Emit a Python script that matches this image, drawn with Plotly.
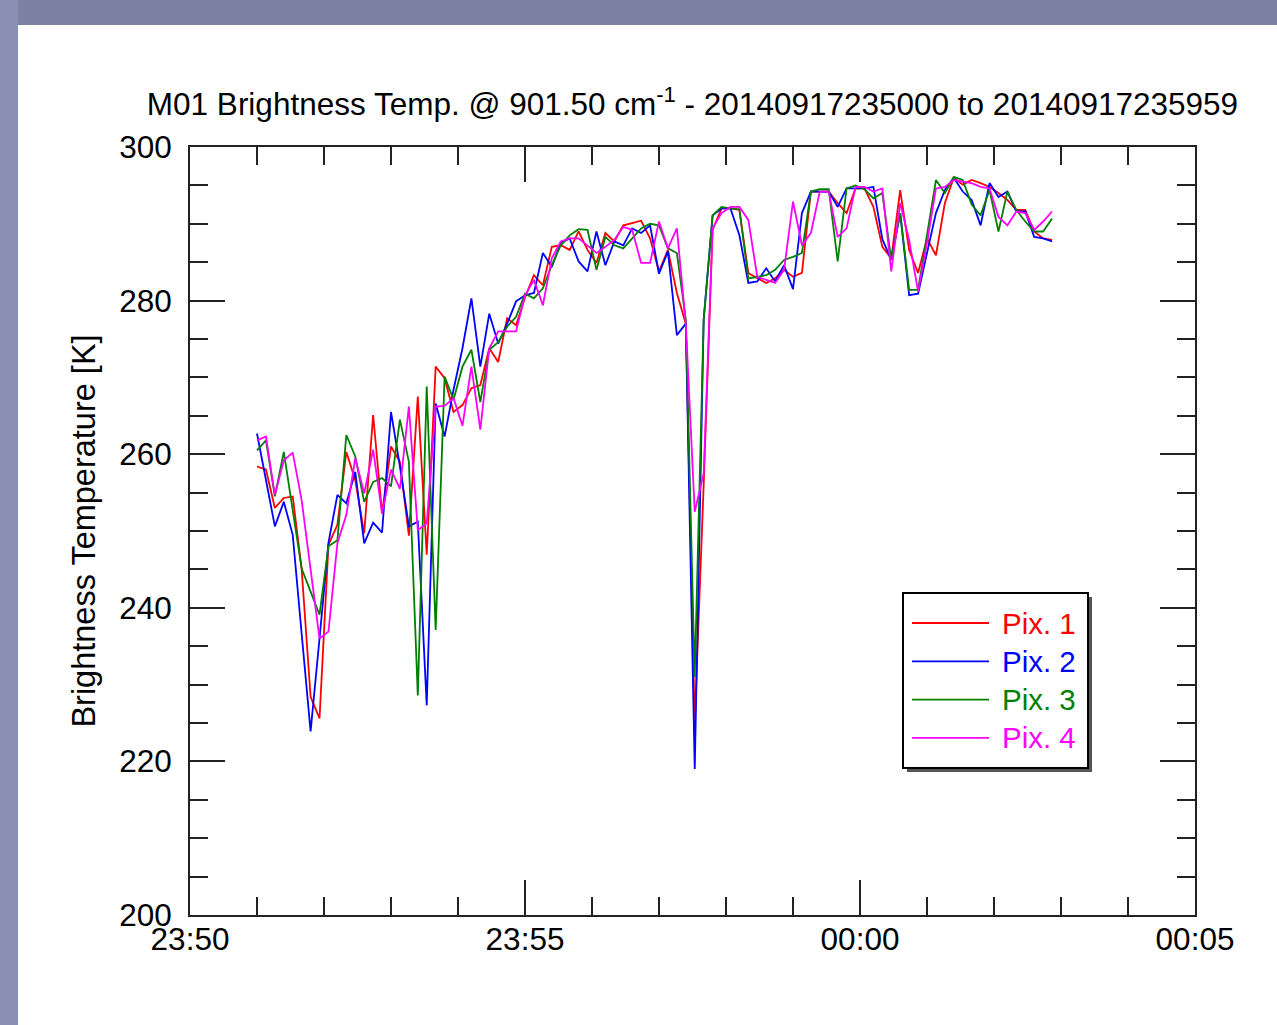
import plotly.graph_objects as go
import pandas as pd

# ---------------- data ----------------
start_time = "2014-09-17 23:51:00"
n_points = 90
sample_interval = "8s"
times = pd.date_range(start_time, periods=n_points, freq=sample_interval)

pix1 = [258.4, 258.0, 253.0, 254.3, 254.5, 245.0, 228.4, 225.6, 248.2, 250.8,
        260.3, 256.6, 249.7, 265.1, 252.3, 261.0, 259.0, 249.4, 267.5, 246.9,
        271.4, 269.9, 265.5, 266.4, 268.6, 269.0, 273.8, 272.0, 277.7, 276.8,
        280.4, 283.3, 282.0, 287.0, 287.2, 286.6, 289.0, 286.6, 284.9, 288.8,
        287.7, 289.8, 290.1, 290.4, 288.1, 283.8, 286.6, 281.0, 277.0, 225.0,
        256.0, 289.2, 292.0, 292.0, 291.8, 283.6, 282.9, 282.3, 282.9, 284.0,
        283.1, 283.6, 294.2, 294.2, 294.2, 292.7, 291.4, 294.6, 294.6, 292.2,
        287.0, 285.5, 294.4, 286.6, 283.6, 288.1, 285.9, 292.7, 296.0, 295.1,
        295.7, 295.3, 294.8, 294.0, 293.1, 291.8, 291.8, 289.0, 288.1, 287.9]

pix2 = [262.7, 256.6, 250.6, 253.8, 249.5, 236.6, 223.9, 236.0, 248.5, 254.7,
        253.6, 257.7, 248.4, 251.1, 249.8, 265.5, 258.4, 250.6, 251.2, 227.3,
        266.6, 262.3, 268.4, 273.8, 280.3, 271.4, 278.3, 274.4, 277.0, 279.9,
        280.7, 281.0, 286.2, 284.4, 287.5, 288.1, 285.1, 283.8, 289.0, 284.6,
        287.7, 287.2, 289.4, 288.8, 289.8, 283.5, 286.4, 275.5, 277.0, 219.0,
        277.5, 291.1, 292.0, 292.0, 288.5, 282.3, 282.5, 284.2, 282.5, 284.6,
        281.5, 291.4, 294.2, 294.2, 294.2, 292.2, 294.6, 294.6, 294.6, 294.8,
        288.0, 285.3, 291.4, 280.7, 280.9, 286.2, 291.4, 294.4, 296.0, 294.2,
        293.1, 289.8, 295.3, 293.5, 294.2, 291.6, 291.6, 288.3, 288.1, 287.7]

pix3 = [260.5, 261.8, 254.5, 260.3, 252.7, 245.1, 242.1, 239.1, 248.0, 248.8,
        262.5, 259.7, 253.8, 256.4, 256.9, 255.8, 264.5, 259.0, 228.6, 268.8,
        237.1, 270.1, 267.1, 271.4, 273.6, 266.8, 273.6, 274.6, 276.6, 277.9,
        280.9, 280.3, 281.6, 284.6, 287.2, 288.5, 289.3, 289.2, 284.0, 288.3,
        287.2, 286.8, 288.1, 289.4, 290.0, 289.8, 286.8, 286.2, 277.5, 231.0,
        277.5, 291.1, 292.2, 292.0, 291.9, 282.9, 283.1, 283.3, 284.0, 285.3,
        285.7, 286.2, 294.2, 294.5, 294.5, 285.1, 294.6, 295.0, 294.5, 293.3,
        294.0, 285.3, 291.4, 281.4, 281.4, 288.8, 295.7, 294.0, 296.1, 295.7,
        292.5, 291.1, 294.4, 289.0, 294.2, 291.8, 290.3, 289.0, 289.0, 290.7]

pix4 = [261.8, 262.3, 254.7, 259.2, 260.2, 254.0, 245.0, 236.0, 236.9, 248.4,
        252.1, 259.5, 254.9, 260.6, 252.3, 258.0, 255.5, 266.2, 250.1, 251.0,
        266.2, 266.3, 267.3, 263.7, 271.4, 263.2, 273.8, 276.0, 276.0, 276.0,
        280.7, 282.7, 279.4, 285.5, 287.7, 288.1, 288.1, 287.2, 286.2, 287.0,
        287.9, 289.6, 289.2, 284.9, 284.9, 290.3, 286.8, 289.4, 277.0, 252.5,
        257.5, 289.4, 291.4, 292.2, 292.2, 290.5, 283.1, 282.7, 282.3, 284.0,
        292.9, 287.2, 288.8, 294.2, 294.2, 288.3, 289.4, 294.8, 294.8, 294.2,
        294.6, 283.8, 292.7, 287.9, 281.2, 287.5, 294.6, 294.8, 295.7, 295.5,
        295.3, 294.8, 294.6, 290.9, 289.8, 291.6, 291.4, 289.2, 290.3, 291.6]

series_names = ["Pix. 1", "Pix. 2", "Pix. 3", "Pix. 4"]
series_values = [pix1, pix2, pix3, pix4]
series_colors = ["#ff0000", "#0000ff", "#008000", "#ff00ff"]

x_range = ["2014-09-17 23:50:00", "2014-09-18 00:05:00"]
y_range = [200, 300]

title_text = ("M01 Brightness Temp. @ 901.50 cm<sup>-1</sup> - "
              "20140917235000 to 20140917235959")
y_title = "Brightness Temperature [K]"

# ---------------- layout geometry ----------------
W, H = 1277, 1025
L, R, T, B = 190, 82, 147, 110
PW, PH = W - L - R, H - T - B
FONT = "Liberation Sans, Arial, Helvetica, sans-serif"
AX = "#222222"


def xp(px):
    return (px - L) / PW


def yp(py):
    return (H - B - py) / PH


fig = go.Figure()
for name, vals, col in zip(series_names, series_values, series_colors):
    fig.add_trace(go.Scatter(x=times, y=vals, mode="lines", name=name,
                             line=dict(color=col, width=1.8),
                             showlegend=False))

shapes = [
    # left lighter strip of the backdrop
    dict(type="rect", xref="paper", yref="paper", layer="below",
         x0=xp(0), x1=xp(18), y0=yp(H), y1=yp(0),
         fillcolor="#8a90b4", line=dict(width=0)),
    # white panel
    dict(type="rect", xref="paper", yref="paper", layer="below",
         x0=xp(18), x1=xp(W), y0=yp(H), y1=yp(25),
         fillcolor="white", line=dict(width=0)),
]

# custom legend box with shadow
lx0, lx1, ly0, ly1 = 903, 1088, 593, 768
shapes.append(dict(type="rect", xref="paper", yref="paper",
                   x0=xp(lx0 + 4), x1=xp(lx1 + 4), y0=yp(ly1 + 4), y1=yp(ly0 + 4),
                   fillcolor="#555555", line=dict(width=0)))
shapes.append(dict(type="rect", xref="paper", yref="paper",
                   x0=xp(lx0), x1=xp(lx1), y0=yp(ly1), y1=yp(ly0),
                   fillcolor="white", line=dict(color="black", width=2)))
annotations = []
row_y0, row_dy = 623, 38.3
for k, (name, col) in enumerate(zip(series_names, series_colors)):
    ry = row_y0 + k * row_dy
    shapes.append(dict(type="line", xref="paper", yref="paper",
                       x0=xp(912), x1=xp(989), y0=yp(ry), y1=yp(ry),
                       line=dict(color=col, width=1.8)))
    annotations.append(dict(xref="paper", yref="paper", x=xp(1000), y=yp(ry),
                            xanchor="left", yanchor="middle", showarrow=False,
                            text=name, font=dict(family=FONT, size=29.5, color=col)))

axis_common = dict(showline=True, linewidth=2, linecolor=AX, mirror="allticks",
                   ticks="inside", ticklen=35, tickwidth=2, tickcolor=AX,
                   showgrid=False, zeroline=False,
                   tickfont=dict(family=FONT, size=31.5, color="black"))

fig.update_layout(
    width=W, height=H,
    margin=dict(l=L, r=R, t=T, b=B),
    paper_bgcolor="#7b82a2",
    plot_bgcolor="white",
    font=dict(family=FONT, color="black"),
    title=dict(text=title_text, x=0.5, xref="paper", xanchor="center",
               y=1 - 104 / H, yref="container", yanchor="middle",
               font=dict(family=FONT, size=31.5, color="black")),
    xaxis=dict(type="date", range=x_range, tick0=x_range[0], dtick=300000,
               tickformat="%H:%M", ticklabelstandoff=-5,
               minor=dict(dtick=60000, ticks="inside", ticklen=18, tickwidth=2,
                          tickcolor=AX, showgrid=False),
               **axis_common),
    yaxis=dict(range=y_range, dtick=20, tick0=200, ticklabelstandoff=10,
               title=dict(text=y_title, standoff=14,
                          font=dict(family=FONT, size=32.5, color="black")),
               minor=dict(dtick=5, ticks="inside", ticklen=18, tickwidth=2,
                          tickcolor=AX, showgrid=False),
               **axis_common),
    shapes=shapes,
    annotations=annotations,
    showlegend=False,
)

fig.write_html("out.html",
               config={"displayModeBar": False},
               post_script="document.body.style.margin='0';"
                           "document.body.style.overflow='hidden';")
